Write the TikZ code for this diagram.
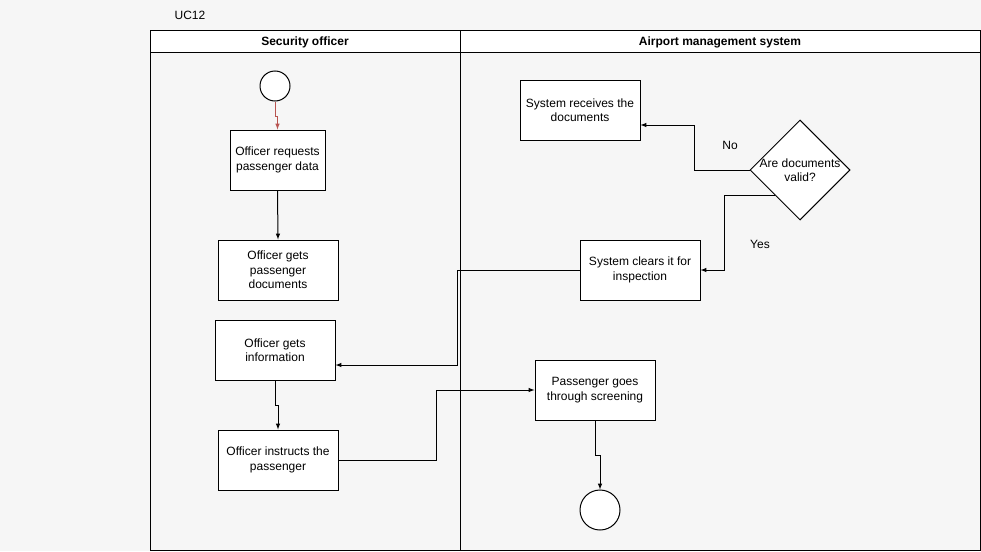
\documentclass[tikz,border=0pt]{standalone}
\usepackage{fontspec}
\setmainfont{Liberation Sans}
\usepackage{tikz}
\usetikzlibrary{shapes.geometric}

\definecolor{bgcol}{RGB}{246,246,246}
\definecolor{startred}{RGB}{184,84,80}

\begin{document}
\begin{tikzpicture}[x=1pt,y=-1pt,
		every node/.style={font=\fontsize{12}{14.3}\selectfont},
		act/.style={rectangle, draw, fill=white, line width=1pt, minimum width=120, minimum height=60, align=center, inner sep=2pt},
		state/.style={circle, draw, fill=white, line width=1pt, inner sep=0pt},
		lane/.style={rectangle, draw, line width=1pt, inner sep=0pt},
		flow/.style={-latex, line width=1pt}]
			\useasboundingbox (0,0) rectangle (981,551);
			\fill[bgcol] (0,0) rectangle (981,551);

			\node (uc) at (190,15) {UC12};

			% swimlanes
			\node[lane, fill=white, minimum width=310, minimum height=22] (h0) at (305,42) {\bfseries Security officer};
			\node[lane, fill=white, minimum width=520, minimum height=22] (h1) at (720,42) {\bfseries Airport management system};
			\node[lane, minimum width=310, minimum height=497] (b0) at (305,301.5) {};
			\node[lane, minimum width=520, minimum height=497] (b1) at (720,301.5) {};

			% security officer
			\node[state, minimum size=30] (start) at (275,86) {};
			\node[act, minimum width=95] (req) at (277.5,160) {Officer requests\\passenger data};
			\node[act] (docs) at (278,270) {Officer gets\\passenger\\documents};
			\node[act] (info) at (275,350) {Officer gets\\information};
			\node[act] (instr) at (278,460) {Officer instructs the\\passenger};

			% airport management system
			\node[act] (recv) at (580,110) {System receives the\\documents};
			\node[diamond, draw, fill=white, line width=1pt, minimum width=100, minimum height=100, inner sep=0pt] (valid) at (800,170) {};
			\node[align=center] (validtxt) at (800,170) {Are documents\\valid?};
			\node[act] (clear) at (640,270) {System clears it for\\inspection};
			\node[act] (pass) at (595,390) {Passenger goes\\through screening};
			\node[state, minimum size=40] (end) at (600,510) {};

			\draw [flow, draw=startred](start.south) -- ++(0,15) -| (req.north);
			\draw [flow](req.south) -- (docs.north);
			\draw [flow](valid.west) -- ++(-55,0) |- ([yshift=-15pt]recv.east);
			\draw [flow](valid.south west) -- ++(-50,0) |- (clear.east);
			\draw [flow](clear.west) -- ++(-122,0) |- ([yshift=-15pt]info.east);
			\draw [flow](info.south) -- ++(0,25) -| (instr.north);
			\draw [flow](instr.east) -- ++(98,0) |- (pass.west);
			\draw [flow](pass.south) -- ++(0,35) -| (end.north);

			\node (no) at (730,145) {No};
			\node (yes) at (760,244) {Yes};

		\end{tikzpicture}
\end{document}
